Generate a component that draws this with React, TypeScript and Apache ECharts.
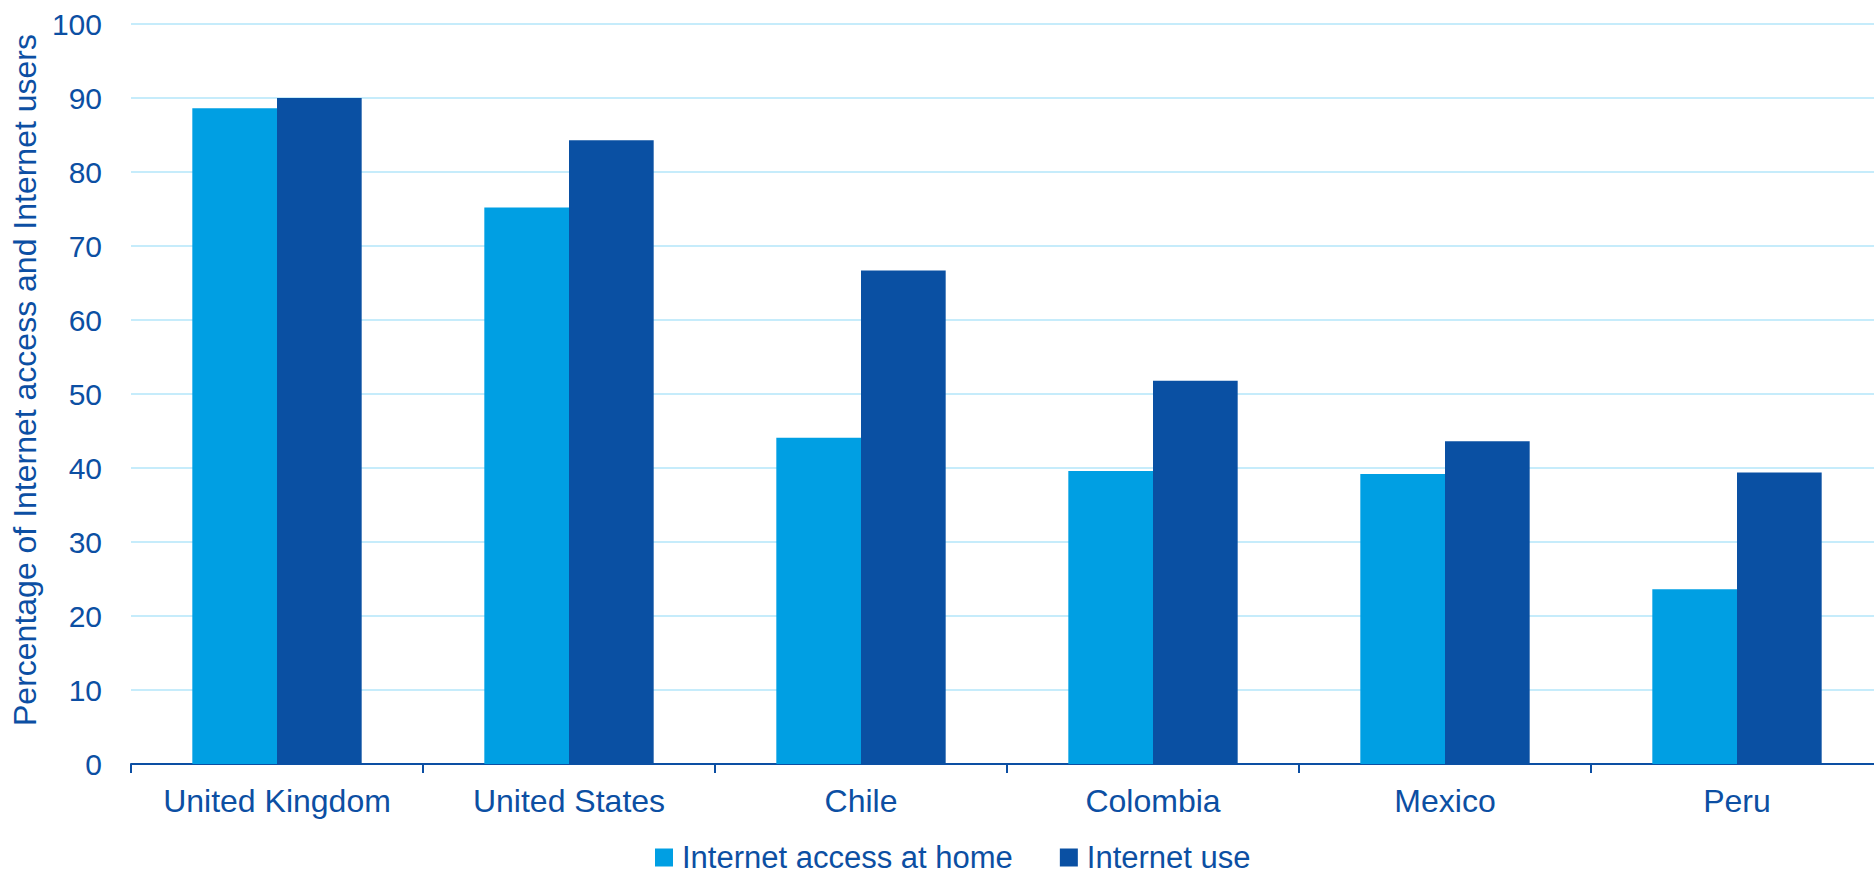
import React, { useEffect, useRef } from "react";
import * as echarts from "echarts";

const categories = ["United Kingdom", "United States", "Chile", "Colombia", "Mexico", "Peru"];
const accessAtHome = [88.6, 75.2, 44.1, 39.6, 39.2, 23.6];
const internetUse = [90.0, 84.3, 66.7, 51.8, 43.6, 39.4];
const seriesNames = ["Internet access at home", "Internet use"];
const yAxisTitle = "Percentage of Internet access and Internet users";

const TEXT = "#0C4FA3";
const LIGHT = "#009FE3";
const DARK = "#0A50A3";
const FONT = "Liberation Sans, Arial, sans-serif";

export default function App() {
  const ref = useRef<HTMLDivElement>(null);
  useEffect(() => {
    if (!ref.current) return;
    const chart = echarts.init(ref.current, null, { renderer: "svg" });
    chart.setOption({
      animation: false,
      textStyle: { fontFamily: FONT },
      grid: {
        left: 131,
        right: -9,
        top: 24,
        bottom: 111,
        containLabel: false,
        outerBoundsMode: "none",
      },
      legend: {
        top: 837,
        left: 650,
        padding: [5, 5, 2, 5],
        itemWidth: 18,
        itemHeight: 18,
        itemGap: 47,
        icon: "rect",
        textStyle: { color: TEXT, fontSize: 31, padding: [0, 0, 0, 4] },
        data: seriesNames,
      },
      xAxis: {
        type: "category",
        data: categories,
        axisLine: { lineStyle: { color: TEXT, width: 2 } },
        axisTick: { show: true, length: 9, lineStyle: { color: TEXT, width: 2 } },
        axisLabel: { color: TEXT, fontSize: 32, margin: 21, interval: 0, hideOverlap: false },
      },
      yAxis: {
        type: "value",
        min: 0,
        max: 100,
        interval: 10,
        axisLine: { show: false },
        axisTick: { show: false },
        axisLabel: { color: TEXT, fontSize: 30, margin: 29, align: "right" },
        splitLine: { lineStyle: { color: "#C6ECFB", width: 2 } },
      },
      graphic: [
        {
          type: "text",
          x: 25,
          y: 380,
          rotation: Math.PI / 2,
          style: {
            text: yAxisTitle,
            fill: TEXT,
            align: "center",
            verticalAlign: "middle",
            font: "32px Liberation Sans, Arial, sans-serif",
          },
        },
      ],
      series: [
        {
          name: seriesNames[0],
          type: "bar",
          data: accessAtHome,
          itemStyle: { color: LIGHT },
          barGap: "0%",
          barCategoryGap: "42%",
        },
        {
          name: seriesNames[1],
          type: "bar",
          data: internetUse,
          itemStyle: { color: DARK },
          barGap: "0%",
          barCategoryGap: "42%",
        },
      ],
    });
    return () => chart.dispose();
  }, []);
  return (
    <div
      ref={ref}
      style={{ position: "absolute", left: 0, top: 0, width: 1874, height: 875 }}
    />
  );
}
